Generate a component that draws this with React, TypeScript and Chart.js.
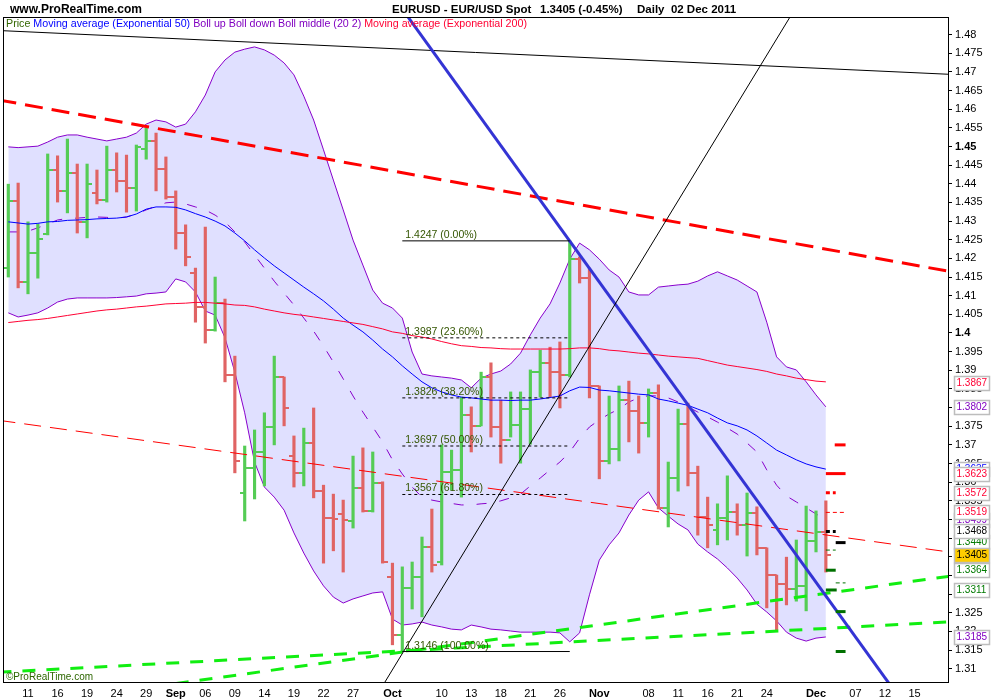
import React, { useEffect, useRef } from 'react';
import { Chart, registerables } from 'chart.js';

Chart.register(...registerables);

const FONT = "'Liberation Sans', Arial, Helvetica, sans-serif";

// ---- x axis (trading-day index) ----
const xTickIdx = [2, 5, 8, 11, 14, 17, 20, 23, 26, 29, 32, 35, 39, 44, 47, 50, 53, 56, 60, 65, 68, 71, 74, 77, 82, 86, 89, 92];
const xTickLabels = ['11', '16', '19', '24', '29', 'Sep', '06', '09', '14', '19', '22', '27', 'Oct', '10', '13', '18', '21', '26', 'Nov', '08', '11', '16', '21', '24', 'Dec', '07', '12', '15'];
const monthLabels = ['Sep', 'Oct', 'Nov', 'Dec'];

// ---- y axis ----
const yTickValues = [1.31, 1.315, 1.32, 1.325, 1.33, 1.335, 1.34, 1.345, 1.35, 1.355, 1.36, 1.365, 1.37, 1.375, 1.38, 1.385, 1.39, 1.395, 1.4, 1.405, 1.41, 1.415, 1.42, 1.425, 1.43, 1.435, 1.44, 1.445, 1.45, 1.455, 1.46, 1.465, 1.47, 1.475, 1.48];
const yTickLabels = ['1.31', '1.315', '1.32', '1.325', '1.33', '1.335', '1.34', '1.345', '1.35', '1.355', '1.36', '1.365', '1.37', '1.375', '1.38', '1.385', '1.39', '1.395', '1.4', '1.405', '1.41', '1.415', '1.42', '1.425', '1.43', '1.435', '1.44', '1.445', '1.45', '1.455', '1.46', '1.465', '1.47', '1.475', '1.48'];
const boldYLabels = ['1.4', '1.45'];

// ---- price bars (Aug 9 - Dec 2 2011) ----
const opens = [1.4174, 1.4354, 1.4137, 1.4214, 1.4265, 1.4437, 1.4381, 1.4429, 1.4298, 1.4375, 1.4357, 1.4437, 1.4408, 1.4389, 1.4493, 1.4515, 1.4440, 1.4365, 1.4268, 1.4161, 1.4070, 1.4008, 1.4080, 1.3887, 1.3571, 1.3638, 1.3681, 1.3748, 1.3882, 1.3670, 1.3625, 1.3705, 1.3576, 1.3504, 1.3515, 1.3496, 1.3584, 1.3523, 1.3598, 1.3346, 1.3190, 1.3316, 1.3346, 1.3426, 1.3386, 1.3627, 1.3633, 1.3780, 1.3751, 1.3882, 1.3748, 1.3713, 1.3753, 1.3796, 1.3895, 1.3920, 1.3895, 1.3887, 1.4198, 1.4147, 1.3858, 1.3657, 1.3689, 1.3820, 1.3791, 1.3759, 1.3839, 1.3531, 1.3611, 1.3756, 1.3625, 1.3507, 1.3472, 1.3504, 1.3520, 1.3485, 1.3517, 1.3424, 1.3351, 1.3327, 1.3314, 1.3322, 1.3442, 1.3466];
const highs = [1.4399, 1.4402, 1.4298, 1.4292, 1.4480, 1.4475, 1.4520, 1.4453, 1.4453, 1.4437, 1.4501, 1.4483, 1.4477, 1.4504, 1.4550, 1.4536, 1.4472, 1.4381, 1.4290, 1.4174, 1.4284, 1.4150, 1.4091, 1.3938, 1.3697, 1.3740, 1.3786, 1.3938, 1.3882, 1.3724, 1.3745, 1.3799, 1.3592, 1.3568, 1.3552, 1.3670, 1.3692, 1.3681, 1.3601, 1.3383, 1.3373, 1.3386, 1.3453, 1.3528, 1.3700, 1.3686, 1.3828, 1.3802, 1.3895, 1.3920, 1.3820, 1.3842, 1.3842, 1.3901, 1.3954, 1.3962, 1.3976, 1.4247, 1.4204, 1.4174, 1.3858, 1.3831, 1.3858, 1.3871, 1.3831, 1.3850, 1.3861, 1.3654, 1.3796, 1.3812, 1.3643, 1.3560, 1.3542, 1.3617, 1.3542, 1.3571, 1.3534, 1.3424, 1.3351, 1.3399, 1.3445, 1.3536, 1.3523, 1.3550];
const lows = [1.4150, 1.4121, 1.4105, 1.4147, 1.4263, 1.4351, 1.4322, 1.4268, 1.4255, 1.4346, 1.4351, 1.4378, 1.4324, 1.4327, 1.4466, 1.4381, 1.4359, 1.4225, 1.4180, 1.4029, 1.3973, 1.4005, 1.3869, 1.3625, 1.3496, 1.3555, 1.3590, 1.3700, 1.3751, 1.3587, 1.3590, 1.3558, 1.3383, 1.3416, 1.3359, 1.3477, 1.3520, 1.3520, 1.3383, 1.3164, 1.3146, 1.3260, 1.3239, 1.3359, 1.3378, 1.3579, 1.3560, 1.3681, 1.3751, 1.3721, 1.3651, 1.3721, 1.3651, 1.3702, 1.3828, 1.3828, 1.3799, 1.3882, 1.4134, 1.3826, 1.3609, 1.3649, 1.3657, 1.3708, 1.3678, 1.3721, 1.3528, 1.3480, 1.3576, 1.3590, 1.3458, 1.3424, 1.3432, 1.3445, 1.3458, 1.3402, 1.3405, 1.3263, 1.3204, 1.3271, 1.3281, 1.3255, 1.3413, 1.3359];
const closes = [1.4354, 1.4137, 1.4214, 1.4252, 1.4437, 1.4381, 1.4429, 1.4298, 1.4399, 1.4357, 1.4437, 1.4408, 1.4389, 1.4499, 1.4515, 1.4440, 1.4365, 1.4268, 1.4204, 1.4070, 1.4008, 1.4080, 1.3887, 1.3657, 1.3638, 1.3681, 1.3748, 1.3882, 1.3799, 1.3625, 1.3705, 1.3576, 1.3504, 1.3501, 1.3499, 1.3584, 1.3523, 1.3598, 1.3386, 1.3190, 1.3316, 1.3346, 1.3426, 1.3378, 1.3627, 1.3633, 1.3780, 1.3751, 1.3882, 1.3748, 1.3713, 1.3753, 1.3796, 1.3895, 1.3920, 1.3895, 1.3887, 1.4198, 1.4147, 1.3858, 1.3657, 1.3689, 1.3820, 1.3791, 1.3759, 1.3839, 1.3531, 1.3611, 1.3756, 1.3625, 1.3507, 1.3485, 1.3504, 1.3520, 1.3485, 1.3517, 1.3424, 1.3351, 1.3327, 1.3314, 1.3322, 1.3442, 1.3466, 1.3405];

// ---- indicators ----
const ema50 = [1.4298, 1.4295, 1.4292, 1.4294, 1.4298, 1.4299, 1.4302, 1.4303, 1.4304, 1.4306, 1.4307, 1.4308, 1.4311, 1.4319, 1.4332, 1.4338, 1.4338, 1.4337, 1.4330, 1.4320, 1.4311, 1.4300, 1.4287, 1.4268, 1.4247, 1.4223, 1.4201, 1.4180, 1.4161, 1.4142, 1.4123, 1.4105, 1.4086, 1.4064, 1.4040, 1.4021, 1.4003, 1.3981, 1.3957, 1.3936, 1.3912, 1.3890, 1.3869, 1.3853, 1.3842, 1.3834, 1.3828, 1.3826, 1.3823, 1.3820, 1.3820, 1.3819, 1.3820, 1.3820, 1.3823, 1.3827, 1.3831, 1.3845, 1.3855, 1.3854, 1.3847, 1.3845, 1.3842, 1.3839, 1.3836, 1.3834, 1.3823, 1.3818, 1.3812, 1.3806, 1.3796, 1.3786, 1.3772, 1.3759, 1.3751, 1.3740, 1.3724, 1.3705, 1.3686, 1.3673, 1.3660, 1.3649, 1.3641, 1.3635];
const ema200 = [1.4028, 1.4031, 1.4034, 1.4036, 1.4039, 1.4043, 1.4047, 1.4051, 1.4055, 1.4059, 1.4062, 1.4064, 1.4067, 1.4070, 1.4072, 1.4075, 1.4078, 1.4079, 1.4080, 1.4082, 1.4082, 1.4080, 1.4078, 1.4075, 1.4074, 1.4070, 1.4064, 1.4059, 1.4054, 1.4050, 1.4047, 1.4043, 1.4039, 1.4035, 1.4031, 1.4027, 1.4023, 1.4017, 1.4011, 1.4003, 1.3999, 1.3993, 1.3989, 1.3984, 1.3977, 1.3971, 1.3966, 1.3964, 1.3961, 1.3960, 1.3958, 1.3957, 1.3957, 1.3957, 1.3957, 1.3957, 1.3957, 1.3958, 1.3960, 1.3960, 1.3958, 1.3954, 1.3952, 1.3949, 1.3946, 1.3944, 1.3941, 1.3938, 1.3936, 1.3934, 1.3932, 1.3926, 1.3920, 1.3914, 1.3910, 1.3906, 1.3902, 1.3897, 1.3890, 1.3885, 1.3879, 1.3875, 1.3871, 1.3869];
const bollUp = [1.4499, 1.4497, 1.4499, 1.4501, 1.4512, 1.4525, 1.4531, 1.4531, 1.4525, 1.4520, 1.4515, 1.4520, 1.4525, 1.4536, 1.4560, 1.4571, 1.4566, 1.4552, 1.4560, 1.4593, 1.4638, 1.4700, 1.4732, 1.4753, 1.4761, 1.4767, 1.4759, 1.4745, 1.4724, 1.4692, 1.4635, 1.4571, 1.4491, 1.4410, 1.4330, 1.4249, 1.4182, 1.4115, 1.4080, 1.4067, 1.4040, 1.3949, 1.3890, 1.3885, 1.3882, 1.3879, 1.3874, 1.3853, 1.3879, 1.3890, 1.3898, 1.3917, 1.3946, 1.3995, 1.4040, 1.4078, 1.4134, 1.4198, 1.4241, 1.4223, 1.4198, 1.4169, 1.4150, 1.4110, 1.4102, 1.4102, 1.4123, 1.4126, 1.4129, 1.4131, 1.4139, 1.4153, 1.4164, 1.4153, 1.4142, 1.4126, 1.4110, 1.4029, 1.3936, 1.3909, 1.3901, 1.3869, 1.3834, 1.3802];
const bollDown = [1.4054, 1.4043, 1.4048, 1.4054, 1.4067, 1.4083, 1.4091, 1.4094, 1.4094, 1.4094, 1.4094, 1.4095, 1.4097, 1.4099, 1.4105, 1.4107, 1.4110, 1.4145, 1.4137, 1.4110, 1.4059, 1.4048, 1.3987, 1.3895, 1.3786, 1.3654, 1.3587, 1.3560, 1.3525, 1.3464, 1.3410, 1.3362, 1.3322, 1.3292, 1.3276, 1.3287, 1.3295, 1.3303, 1.3306, 1.3233, 1.3217, 1.3220, 1.3225, 1.3217, 1.3212, 1.3206, 1.3204, 1.3217, 1.3212, 1.3206, 1.3204, 1.3201, 1.3198, 1.3198, 1.3198, 1.3198, 1.3196, 1.3172, 1.3196, 1.3298, 1.3391, 1.3432, 1.3464, 1.3512, 1.3552, 1.3574, 1.3531, 1.3509, 1.3488, 1.3472, 1.3434, 1.3413, 1.3394, 1.3370, 1.3343, 1.3311, 1.3273, 1.3252, 1.3228, 1.3198, 1.3182, 1.3174, 1.3182, 1.3185];
const bollMid = [1.4271, 1.4271, 1.4273, 1.4282, 1.4292, 1.4303, 1.4307, 1.4308, 1.4310, 1.4311, 1.4310, 1.4308, 1.4311, 1.4319, 1.4330, 1.4340, 1.4349, 1.4351, 1.4346, 1.4338, 1.4330, 1.4316, 1.4298, 1.4271, 1.4244, 1.4209, 1.4174, 1.4139, 1.4107, 1.4075, 1.4040, 1.4005, 1.3965, 1.3922, 1.3877, 1.3831, 1.3788, 1.3748, 1.3708, 1.3660, 1.3622, 1.3587, 1.3560, 1.3552, 1.3547, 1.3543, 1.3539, 1.3539, 1.3542, 1.3544, 1.3550, 1.3558, 1.3568, 1.3590, 1.3611, 1.3633, 1.3654, 1.3681, 1.3718, 1.3748, 1.3767, 1.3783, 1.3796, 1.3815, 1.3826, 1.3832, 1.3831, 1.3826, 1.3815, 1.3802, 1.3788, 1.3775, 1.3761, 1.3745, 1.3729, 1.3705, 1.3681, 1.3633, 1.3592, 1.3563, 1.3547, 1.3531, 1.3515, 1.3499];

// ---- drawn trend lines: [index, price] anchor pairs ----
const topBlackLine = [[-1, 1.4811], [96, 1.4693]];
const redUpperDashed = [[-1, 1.4625], [96, 1.4163]];
const redLowerDashed = [[-1, 1.3766], [96, 1.3411]];
const greenSteepDashed = [[17, 1.30601], [96, 1.33496]];
const greenFlatDashed = [[-1, 1.30905], [96, 1.32261]];
const blueDownTrend = [[40, 1.48684], [90, 1.30391]];
const blackUpTrend = [[38, 1.30539], [80, 1.48749]];

// ---- Fibonacci retracement (Oct 4 low -> Oct 27 high) ----
const fibStart = 40;
const fibEnd = 57;
const fibLevels = [1.4247, 1.3987, 1.3826, 1.3697, 1.3567, 1.3146];
const fibTexts = ['1.4247 (0.00%)', '1.3987 (23.60%)', '1.3826 (38.20%)', '1.3697 (50.00%)', '1.3567 (61.80%)', '1.3146 (100.00%)'];

// ---- small level markers right of the last bar ----
const markerValues = [1.3700, 1.3623, 1.3572, 1.3519, 1.3468, 1.3438, 1.3418, 1.3364, 1.3330, 1.3311, 1.3253, 1.3146];
const markerFrom = [83.9, 83.0, 83.0, 83.0, 83.0, 84.0, 83.0, 83.0, 84.0, 83.0, 84.0, 84.0];
const markerTo = [85.0, 85.0, 84.0, 85.0, 84.0, 85.0, 84.0, 84.0, 85.0, 84.1, 85.0, 85.0];
const markerColors = ['#ff0000', '#ff0000', '#ff0000', '#ff0000', '#000000', '#000000', '#007000', '#007000', '#007000', '#007000', '#007000', '#007000'];
const markerWidths = [3, 3, 3, 1, 3, 3, 1, 3, 1, 3, 3, 3];
const markerDashed = [false, false, true, true, true, false, true, false, true, false, false, false];

// ---- right-hand value boxes (drawn in this order) ----
const boxValues = [1.3635, 1.3499, 1.3440, 1.3867, 1.3802, 1.3623, 1.3572, 1.3519, 1.3468, 1.3364, 1.3311, 1.3185, 1.3405];
const boxTexts = ['1.3635', '1.3499', '1.3440', '1.3867', '1.3802', '1.3623', '1.3572', '1.3519', '1.3468', '1.3364', '1.3311', '1.3185', '1.3405'];
const boxColors = ['#0000ff', '#8000c0', '#007a00', '#ff0033', '#8000c0', '#ff0033', '#ff0033', '#ff0033', '#000000', '#007a00', '#007a00', '#8000c0', '#000000'];
const boxFills = ['#ffffff', '#ffffff', '#ffffff', '#ffffff', '#ffffff', '#ffffff', '#ffffff', '#ffffff', '#ffffff', '#ffffff', '#ffffff', '#ffffff', '#ffcc00'];

const legendTexts = ['Price ', 'Moving average (Exponential 50) ', 'Boll up Boll down Boll middle (20 2) ', 'Moving average (Exponential 200)'];
const legendColors = ['#336600', '#0000ff', '#8000c0', '#ff0033'];

const GREEN_BAR = '#55cc55';
const RED_BAR = '#e06464';
const PURPLE = '#8800cc';

export default function App() {
  const canvasRef = useRef<HTMLCanvasElement | null>(null);

  useEffect(() => {
    const canvas = canvasRef.current;
    if (!canvas) return;

    const tickImg = (color: string, open: boolean) => {
      const c = document.createElement('canvas');
      c.width = 10;
      c.height = 2;
      const g = c.getContext('2d')!;
      g.fillStyle = color;
      if (open) g.fillRect(0, 0, 5, 2);
      else g.fillRect(5, 0, 5, 2);
      return c;
    };
    const gO = tickImg(GREEN_BAR, true);
    const gC = tickImg(GREEN_BAR, false);
    const rO = tickImg(RED_BAR, true);
    const rC = tickImg(RED_BAR, false);
    const isUp = closes.map((c, i) => c >= opens[i]);

    const series = (vals: number[]) => vals.map((v, i) => ({ x: i, y: v }));
    const pts = (p: number[][]) => p.map((q) => ({ x: q[0], y: q[1] }));
    const lineDs = (data: any[], color: string, width: number, dash: number[], order: number) => ({
      type: 'line',
      data,
      borderColor: color,
      borderWidth: width,
      borderDash: dash,
      pointRadius: 0,
      fill: false,
      tension: 0,
      order,
    });

    const datasets: any[] = [
      { ...lineDs(series(bollUp), PURPLE, 1, [], 30), fill: '+1', backgroundColor: '#e0e0ff' },
      lineDs(series(bollDown), PURPLE, 1, [], 30),
      lineDs(series(bollMid), PURPLE, 1, [10, 13], 29),
      {
        type: 'bar',
        data: lows.map((l, i) => ({ x: i, y: [l, highs[i]] })),
        backgroundColor: isUp.map((u) => (u ? GREEN_BAR : RED_BAR)),
        barThickness: 2.5,
        borderWidth: 0,
        order: 10,
      },
      {
        type: 'line',
        data: series(opens),
        showLine: false,
        pointRadius: 3,
        pointStyle: (c: any) => (isUp[c.dataIndex] ? gO : rO),
        order: 9,
      },
      {
        type: 'line',
        data: series(closes),
        showLine: false,
        pointRadius: 3,
        pointStyle: (c: any) => (isUp[c.dataIndex] ? gC : rC),
        order: 9,
      },
      lineDs(series(ema200), '#ff0033', 1, [], 6),
      lineDs(series(ema50), '#0000ff', 1, [], 6),
      lineDs(pts(topBlackLine), '#000000', 1, [], 4),
      lineDs(pts(redUpperDashed), '#ff0000', 3, [18, 9], 4),
      lineDs(pts(redLowerDashed), '#ff0000', 1, [17, 9], 4),
      lineDs(pts(greenSteepDashed), '#11ee11', 3, [13, 11], 4),
      lineDs(pts(greenFlatDashed), '#11ee11', 3, [13, 11], 4),
      lineDs(pts(blackUpTrend), '#000000', 1, [], 3),
      lineDs(pts(blueDownTrend), '#3434d4', 3, [], 3),
    ];
    fibLevels.forEach((lv, i) => {
      const solid = i === 0 || i === fibLevels.length - 1;
      datasets.push(lineDs([{ x: fibStart, y: lv }, { x: fibEnd, y: lv }], '#000000', 1, solid ? [] : [3, 3], 2));
    });
    markerValues.forEach((v, i) => {
      datasets.push(lineDs([{ x: markerFrom[i], y: v }, { x: markerTo[i], y: v }], markerColors[i], markerWidths[i], markerDashed[i] ? [4, 3] : [], 1));
    });

    const decor = {
      id: 'decor',
      afterDraw(chart: any) {
        const { ctx, chartArea: a } = chart;
        const xs = chart.scales.x;
        const ys = chart.scales.y;
        ctx.save();
        ctx.strokeStyle = '#000';
        ctx.lineWidth = 1;
        ctx.setLineDash([]);
        ctx.strokeRect(a.left + 0.5, a.top + 0.5, a.right - a.left, a.bottom - a.top);

        // header
        ctx.fillStyle = '#000';
        ctx.textBaseline = 'alphabetic';
        ctx.textAlign = 'left';
        ctx.font = `bold 12px ${FONT}`;
        ctx.fillText('www.ProRealTime.com', 10, 13);
        ctx.font = `bold 11.5px ${FONT}`;
        ctx.fillText('EURUSD - EUR/USD Spot', 392, 13);
        ctx.fillText('1.3405 (-0.45%)', 540, 13);
        ctx.fillText('Daily  02 Dec 2011', 637, 13);

        // legend
        ctx.font = `10.7px ${FONT}`;
        let lx = 6;
        legendTexts.forEach((t, i) => {
          ctx.fillStyle = legendColors[i];
          ctx.fillText(t, lx, 27);
          lx += ctx.measureText(t).width;
        });

        // copyright
        ctx.fillStyle = '#2d6600';
        ctx.font = `10px ${FONT}`;
        ctx.fillText('\u00A9ProRealTime.com', 6, 680);

        // fib labels
        ctx.fillStyle = '#335500';
        ctx.font = `10.5px ${FONT}`;
        const fx = xs.getPixelForValue(fibStart) + 3;
        fibLevels.forEach((lv, i) => {
          ctx.fillText(fibTexts[i], fx, ys.getPixelForValue(lv) - 3);
        });

        // value boxes
        ctx.font = `10px ${FONT}`;
        ctx.textBaseline = 'middle';
        boxValues.forEach((v, i) => {
          const yy = Math.round(ys.getPixelForValue(v));
          const bx = 954;
          const bw = 35;
          const bh = 14;
          ctx.fillStyle = boxFills[i];
          ctx.fillRect(bx, yy - 7, bw, bh);
          ctx.strokeStyle = '#bdbdbd';
          ctx.lineWidth = 1.5;
          ctx.strokeRect(bx + 0.5, yy - 7 + 0.5, bw, bh);
          ctx.fillStyle = boxColors[i];
          ctx.fillText(boxTexts[i], bx + 2.5, yy + 0.5);
        });
        ctx.restore();
      },
    };

    const chart = new Chart(canvas, {
      type: 'line',
      data: { datasets },
      options: {
        responsive: false,
        animation: false,
        events: [],
        layout: { padding: { top: 17, left: 3, right: 0, bottom: 0 }, autoPadding: false },
        plugins: {
          legend: { display: false },
          tooltip: { enabled: false },
          filler: { drawTime: 'beforeDatasetsDraw', propagate: false },
        },
        scales: {
          x: {
            type: 'linear',
            min: -0.538,
            max: 95.4,
            offset: false,
            afterBuildTicks: (s: any) => {
              s.ticks = xTickIdx.map((v) => ({ value: v }));
            },
            afterFit: (s: any) => {
              s.height = 18;
              s.paddingLeft = 0;
              s.paddingRight = 0;
            },
            grid: { display: false, drawTicks: false },
            border: { display: true, color: '#000' },
            ticks: {
              autoSkip: false,
              maxRotation: 0,
              padding: 5,
              color: '#000',
              callback: (_v: any, i: number) => xTickLabels[i],
              font: (c: any) => ({
                family: FONT,
                size: 11,
                weight: c && c.index !== undefined && monthLabels.includes(xTickLabels[c.index]) ? 'bold' : 'normal',
              }),
            },
          },
          y: {
            type: 'linear',
            position: 'right',
            min: 1.30643,
            max: 1.48472,
            afterBuildTicks: (s: any) => {
              s.ticks = yTickValues.map((v) => ({ value: v }));
            },
            afterFit: (s: any) => {
              s.width = 52;
              s.paddingTop = 0;
              s.paddingBottom = 0;
            },
            grid: { display: true, drawOnChartArea: false, drawTicks: true, tickLength: 4, color: '#000' },
            border: { display: true, color: '#000', width: 1 },
            ticks: {
              padding: 3,
              color: '#000',
              callback: (_v: any, i: number) => yTickLabels[i],
              font: (c: any) => ({
                family: FONT,
                size: 11,
                weight: c && c.index !== undefined && boldYLabels.includes(yTickLabels[c.index]) ? 'bold' : 'normal',
              }),
            },
          },
        },
      } as any,
      plugins: [decor],
    } as any);

    return () => chart.destroy();
  }, []);

  return (
    <div style={{ position: 'absolute', left: 0, top: 0, width: 1000, height: 700, background: '#fff' }}>
      <canvas ref={canvasRef} width={1000} height={700} style={{ display: 'block' }} />
    </div>
  );
}
